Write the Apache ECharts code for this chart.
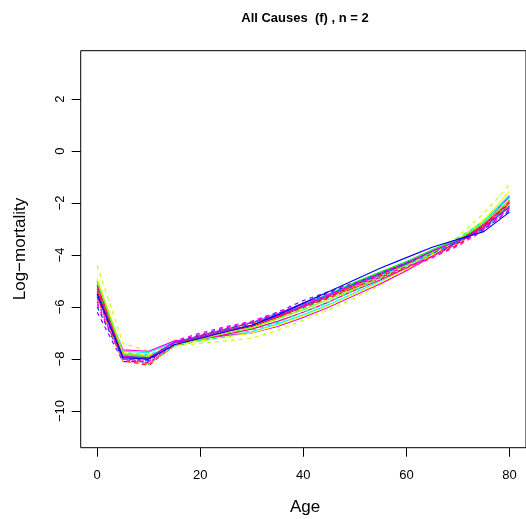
<!DOCTYPE html>
<html><head><meta charset="utf-8">
<script src="https://cdn.jsdelivr.net/npm/echarts@6/dist/echarts.min.js"></script>
<style>html,body{margin:0;padding:0;background:#fff}#c{width:526px;height:519px}</style>
</head><body><div id="c"></div>
<script>
// ages
var ages = [0,5,10,15,20,25,30,35,40,45,50,55,60,65,70,75,80];
var xTicks = [0,20,40,60,80];
var yTicks = [-10,-8,-6,-4,-2,0,2];
var titleText = 'All Causes  (f) , n = 2';
var xName = 'Age';
var yName = 'Log\u2212mortality';

// log-mortality curves
var s01 = [-4.4,-7.4,-7.7,-7.5,-7.4,-7.3,-7.2,-6.9,-6.5,-6.1,-5.65,-5.15,-4.6,-3.95,-3.3,-2.4,-1.3];
var s02 = [-6.2,-8.1,-8.1,-7.35,-7.05,-6.8,-6.55,-6.2,-5.75,-5.4,-5.05,-4.7,-4.35,-3.9,-3.45,-2.95,-2.1];
var s03 = [-5.9,-8.0,-8.2,-7.4,-7.1,-6.85,-6.6,-6.25,-5.85,-5.55,-5.2,-4.8,-4.45,-4.05,-3.6,-3.0,-2.2];
var s04 = [-5.6,-8.05,-8.25,-7.45,-7.15,-6.9,-6.65,-6.3,-5.95,-5.6,-5.25,-4.9,-4.55,-4.1,-3.6,-2.95,-2.0];
var s05 = [-5.0,-7.9,-8.2,-7.5,-7.3,-7.05,-6.8,-6.45,-6.05,-5.65,-5.2,-4.8,-4.4,-3.9,-3.45,-2.8,-1.9];
var s06 = [-5.1,-7.7,-7.75,-7.35,-7.25,-7.1,-6.95,-6.65,-6.3,-5.9,-5.45,-5.0,-4.5,-3.95,-3.4,-2.7,-1.7];
var s07 = [-5.2,-7.65,-7.7,-7.3,-7.2,-7.1,-7.0,-6.75,-6.4,-6.0,-5.55,-5.1,-4.6,-4.05,-3.5,-2.8,-1.75];
var s08 = [-5.3,-7.85,-7.95,-7.4,-7.15,-6.9,-6.7,-6.35,-5.95,-5.5,-5.05,-4.65,-4.25,-3.8,-3.4,-2.85,-2.1];
var s09 = [-5.4,-7.9,-8.0,-7.4,-7.2,-6.95,-6.75,-6.4,-6.0,-5.6,-5.15,-4.75,-4.35,-3.9,-3.45,-2.9,-2.0];
var s10 = [-5.15,-7.8,-7.9,-7.4,-7.25,-7.05,-6.85,-6.55,-6.2,-5.8,-5.35,-4.95,-4.5,-4.0,-3.5,-2.85,-1.9];
var s11 = [-4.9,-7.75,-7.85,-7.45,-7.3,-7.15,-7.0,-6.7,-6.35,-5.95,-5.5,-5.05,-4.55,-4.0,-3.4,-2.65,-1.55];
var s12 = [-5.05,-7.75,-7.85,-7.4,-7.3,-7.15,-6.9,-6.6,-6.2,-5.8,-5.35,-4.9,-4.4,-3.9,-3.35,-2.7,-1.8];
var s13 = [-6.0,-8.0,-8.05,-7.35,-7.1,-6.85,-6.6,-6.25,-5.85,-5.45,-5.1,-4.7,-4.3,-3.9,-3.5,-3.0,-2.3];
var s14 = [-5.7,-8.1,-8.2,-7.5,-7.2,-6.95,-6.7,-6.35,-6.0,-5.6,-5.2,-4.85,-4.5,-4.05,-3.55,-2.9,-2.0];
var s15 = [-5.0,-7.8,-7.9,-7.45,-7.25,-7.0,-6.8,-6.45,-6.1,-5.7,-5.3,-4.85,-4.4,-3.9,-3.4,-2.75,-1.9];
var s16 = [-5.6,-7.9,-7.95,-7.35,-7.15,-6.9,-6.7,-6.35,-5.95,-5.55,-5.1,-4.7,-4.3,-3.85,-3.45,-2.95,-2.15];
var s17 = [-5.8,-8.0,-8.1,-7.3,-7.0,-6.75,-6.55,-6.2,-5.9,-5.5,-5.15,-4.8,-4.45,-4.1,-3.65,-3.05,-2.25];
var s18 = [-5.5,-7.95,-8.0,-7.4,-7.1,-6.85,-6.6,-6.3,-5.9,-5.5,-5.1,-4.75,-4.35,-3.95,-3.5,-2.95,-2.1];
var s19 = [-5.3,-7.95,-8.15,-7.4,-7.1,-6.85,-6.6,-6.35,-6.0,-5.65,-5.25,-4.85,-4.5,-4.05,-3.55,-2.9,-1.95];
var s20 = [-5.5,-7.95,-8.0,-7.45,-7.2,-6.95,-6.7,-6.3,-5.85,-5.4,-4.95,-4.5,-4.1,-3.7,-3.4,-3.1,-2.35];

var curves  = [s01,s02,s03,s04,s05,s06,s07,s08,s09,s10,s11,s12,s13,s14,s15,s16,s17,s18,s19,s20];
var colors  = ['#CCFF00','#8000FF','#FF00CC','#FF0040','#00FF40','#00FFFF','#FF00FF','#00FF00','#FF0000','#FF0080',
               '#FFFF00','#00FFBF','#0040FF','#FF8000','#80FF00','#BF00FF','#FF00FF','#0080FF','#FF0080','#0000FF'];
var dashed  = [1,1,1,1,1,0,0,0,0,0,0,1,1,1,0,0,1,1,1,0];

function fmt(v){ return String(v).replace('-', '\u2212'); }

var series = curves.map(function(c, i){
  return {
    type:'line', data: ages.map(function(a, j){ return [a, c[j]]; }),
    symbol:'none', animation:false, silent:true,
    lineStyle:{ color: colors[i], width:1.2, type: dashed[i] ? [4,4] : 'solid' }
  };
});

var chart = echarts.init(document.getElementById('c'), null, {renderer:'canvas'});
chart.setOption({
  animation:false,
  grid:{ left:80.7, top:50.7, width:449, height:397, show:true, borderColor:'#000', borderWidth:1, backgroundColor:'transparent' },
  xAxis:{
    type:'value', min:-3.2, max:83.2,
    axisLine:{show:false, onZero:false}, splitLine:{show:false},
    axisTick:{show:true, inside:false, length:9, lineStyle:{color:'#000'}, customValues: xTicks},
    axisLabel:{show:true, margin:21, color:'#000', fontSize:13, fontFamily:'Liberation Sans, Arial, sans-serif', customValues: xTicks, formatter: fmt}
  },
  yAxis:{
    type:'value', min:-11.41, max:3.858,
    axisLine:{show:false, onZero:false}, splitLine:{show:false},
    axisTick:{show:true, inside:false, length:9, lineStyle:{color:'#000'}, customValues: yTicks},
    axisLabel:{show:true, margin:14, rotate:90, color:'#000', fontSize:13, fontFamily:'Liberation Sans, Arial, sans-serif', customValues: yTicks, formatter: fmt, verticalAlign:'bottom', align:'center'}
  },
  graphic:[
    {type:'text', x:305, y:18, style:{text:titleText, fill:'#000', font:'bold 13px "Liberation Sans", Arial, sans-serif', textAlign:'center', textVerticalAlign:'middle'}},
    {type:'text', x:305, y:507, style:{text:xName, fill:'#000', font:'17px "Liberation Sans", Arial, sans-serif', textAlign:'center', textVerticalAlign:'middle'}},
    {type:'text', x:20, y:249, rotation:Math.PI/2, style:{text:yName, fill:'#000', font:'17px "Liberation Sans", Arial, sans-serif', textAlign:'center', textVerticalAlign:'middle'}}
  ],
  series: series
});
</script></body></html>
